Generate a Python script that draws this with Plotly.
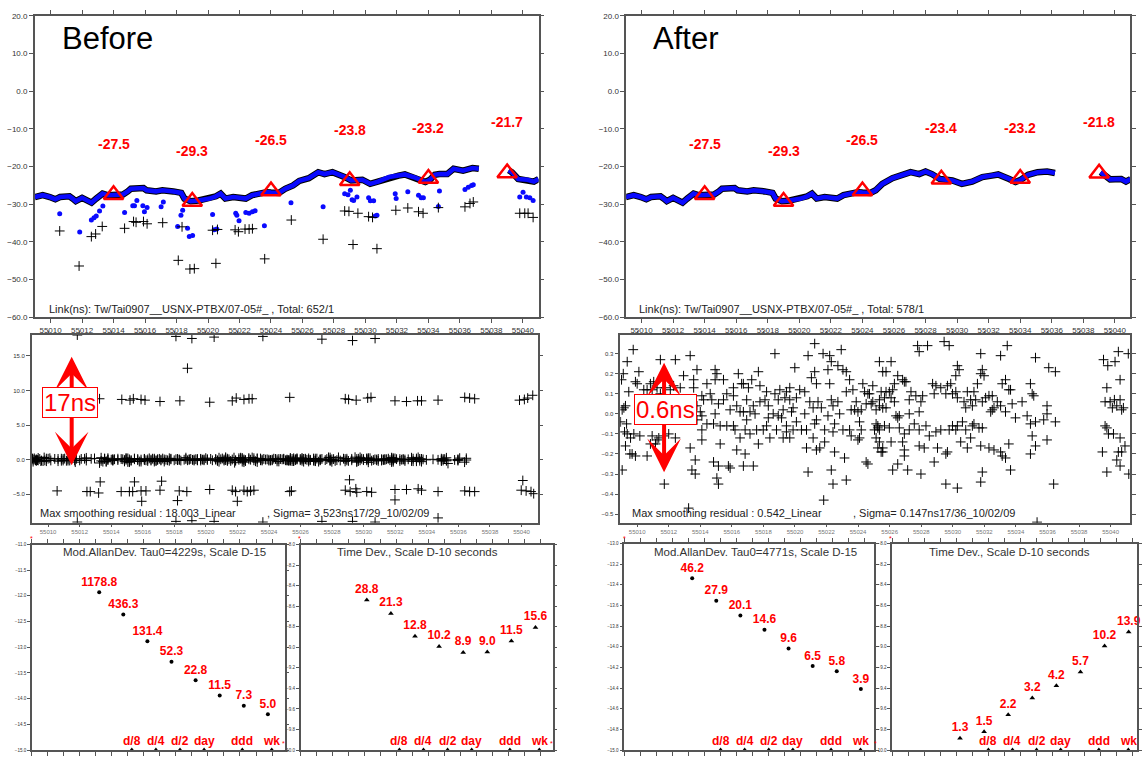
import numpy as np
import plotly.graph_objects as go

W, H = 1142, 758
FONT = "Liberation Sans, Arial, sans-serif"

# ------------------------------------------------------------------ data
TRI_DAYS = [55014, 55019, 55024, 55029, 55034, 55039]
TRI_BEFORE = [-27.5, -29.3, -26.5, -23.8, -23.2, -21.7]
TRI_AFTER = [-27.5, -29.3, -26.5, -23.4, -23.2, -21.8]

CURVE_BEFORE_DAY = [55009.0, 55009.5, 55009.95, 55010.3, 55010.6, 55011.2, 55011.4, 55011.6, 55012.0, 55012.4,
                    55012.6, 55012.9, 55013.3, 55013.6, 55014.0, 55014.6, 55014.9, 55015.1, 55015.9, 55016.1,
                    55016.7, 55017.1, 55017.8, 55018.3, 55018.5, 55018.9, 55019.4, 55020.1, 55020.5, 55020.8,
                    55021.1, 55021.6, 55022.0, 55022.4, 55022.8, 55023.2, 55023.7, 55024.0, 55024.5, 55024.9,
                    55025.4, 55025.8, 55026.4, 55027.0, 55027.4, 55027.9, 55028.3, 55028.7, 55029.1, 55029.8,
                    55030.3, 55030.8, 55031.5, 55032.1, 55032.5, 55033.2, 55033.8, 55034.1, 55034.4, 55034.7,
                    55035.2, 55035.6, 55036.2, 55036.8, 55037.2, None, 55039.1, 55039.3, 55039.7, 55040.3,
                    55040.7, 55041.0]
CURVE_BEFORE_VAL = [-28.1, -27.6, -28.1, -28.7, -28.1, -27.9, -28.5, -29.2, -28.3, -29.0,
                    -29.6, -28.5, -27.2, -27.6, -27.4, -27.4, -26.6, -25.9, -25.7, -26.3,
                    -26.6, -26.3, -26.6, -27.0, -28.5, -29.2, -29.0, -28.5, -27.9, -27.2,
                    -28.5, -28.1, -28.3, -28.5, -27.6, -27.2, -26.8, -26.9, -27.0, -25.9,
                    -25.0, -23.8, -23.1, -21.5, -22.0, -21.5, -22.0, -22.8, -23.7, -23.5,
                    -24.6, -24.0, -22.8, -22.4, -22.1, -23.0, -24.1, -23.5, -22.2, -22.0,
                    -22.0, -20.6, -21.1, -20.4, -20.6, None, -21.0, -21.5, -23.3, -23.5,
                    -24.0, -23.3]

CURVE_AFTER_DAY = [55009.0, 55009.5, 55009.95, 55010.3, 55010.6, 55011.2, 55011.4, 55011.6, 55012.0, 55012.4,
                   55012.6, 55012.9, 55013.3, 55013.6, 55014.0, 55014.6, 55014.9, 55015.1, 55015.9, 55016.1,
                   55016.7, 55017.1, 55017.8, 55018.3, 55018.5, 55018.9, 55019.4, 55020.1, 55020.5, 55020.8,
                   55021.1, 55021.6, 55022.0, 55022.4, 55022.8, 55023.2, 55023.7, 55024.0, 55024.5, 55024.84,
                   55025.26, 55025.9, 55026.5, 55027.05, 55027.6, 55028.0, 55028.4, 55028.9, 55029.7, 55030.3,
                   55030.95, 55031.6, 55032.2, 55032.6, 55033.3, 55033.7, 55034.0, 55034.5, 55035.1, 55035.7,
                   55036.2, None, 55039.1, 55039.7, 55040.4, 55040.7, 55041.0]
CURVE_AFTER_VAL = [-28.1, -27.6, -28.1, -28.7, -28.1, -27.9, -28.5, -29.2, -28.3, -29.0,
                   -29.6, -28.5, -27.2, -27.6, -27.4, -27.4, -26.6, -25.9, -25.7, -26.3,
                   -26.6, -26.3, -26.6, -27.0, -28.5, -29.2, -29.0, -28.5, -27.9, -27.2,
                   -28.5, -28.1, -28.3, -28.5, -27.6, -27.2, -26.8, -26.9, -27.0, -26.3,
                   -24.6, -23.1, -22.4, -21.5, -22.0, -21.3, -22.0, -23.3, -23.7, -24.6,
                   -24.0, -22.8, -22.4, -22.1, -23.3, -24.1, -23.6, -22.2, -21.5, -21.3,
                   -21.7, None, -21.5, -23.4, -23.3, -24.0, -23.3]

BLUE_OUT_BEFORE = [
    (55010.58, -32.5), (55011.85, -37.4), (55012.59, -34.2), (55012.76, -33.6), (55012.90, -33.1),
    (55013.11, -31.8), (55013.32, -30.5), (55014.70, -32.2), (55015.22, -30.4), (55015.33, -30.4),
    (55015.48, -29.0), (55015.86, -30.4), (55015.96, -32.0), (55016.13, -30.9), (55017.02, -30.7),
    (55017.16, -29.4), (55018.07, -35.9), (55018.28, -32.9), (55018.39, -31.6), (55018.70, -36.4),
    (55018.81, -38.6), (55019.02, -38.3), (55020.29, -32.7), (55020.39, -36.8), (55020.56, -36.6),
    (55021.76, -32.4), (55021.83, -32.9), (55021.97, -34.4), (55022.40, -32.2), (55022.61, -32.4),
    (55022.82, -32.0), (55022.99, -31.7), (55023.58, -35.7), (55025.27, -29.6), (55027.31, -30.7),
    (55028.68, -27.2), (55028.89, -27.5), (55029.04, -26.3), (55029.15, -28.8), (55029.25, -29.0),
    (55029.46, -28.1), (55030.20, -28.3), (55030.31, -29.1), (55030.52, -29.1), (55030.62, -33.1),
    (55030.73, -32.9), (55031.89, -27.2), (55031.95, -28.5), (55032.69, -26.7), (55033.37, -27.6),
    (55033.54, -28.3), (55033.68, -28.3), (55034.63, -30.6), (55034.70, -26.5), (55036.32, -26.1),
    (55036.53, -25.5), (55036.74, -25.0), (55036.85, -24.8), (55039.80, -28.1), (55040.01, -26.8),
    (55040.22, -28.1), (55040.44, -28.3), (55040.65, -29.0)]

BLACK_OUT_BEFORE = [
    (55010.58, -37.1), (55011.81, -46.4), (55012.59, -38.6), (55012.86, -37.9), (55013.28, -35.9),
    (55014.70, -36.4), (55015.27, -34.6), (55015.43, -34.8), (55015.90, -34.6), (55016.13, -35.2),
    (55017.12, -34.9), (55018.11, -44.9), (55018.35, -36.0), (55018.85, -47.2), (55019.13, -47.1),
    (55020.29, -36.9), (55020.60, -36.7), (55020.50, -45.7), (55021.72, -36.8), (55021.93, -37.3),
    (55022.35, -36.6), (55022.61, -36.6), (55022.82, -36.5), (55023.60, -44.5), (55025.29, -34.2),
    (55027.31, -39.3), (55028.68, -31.8), (55028.95, -31.9), (55029.52, -32.4), (55030.20, -33.3),
    (55030.45, -33.5), (55029.21, -40.7), (55030.73, -41.8), (55031.93, -31.6), (55032.69, -31.0),
    (55033.37, -32.0), (55033.66, -32.4), (55034.63, -30.9), (55036.32, -30.7), (55036.64, -29.8),
    (55036.85, -29.4), (55039.80, -32.4), (55040.12, -32.4), (55040.33, -32.4), (55040.65, -33.5)]

# smoothing residuals of the cleaned data (ns)
RES_AFTER = [
    (55009.75, 0.32), (55009.37, 0.26), (55009.12, 0.20), (55009.01, 0.17), (55010.11, 0.21), (55009.89, 0.16),
    (55010.00, 0.15), (55009.47, 0.11), (55009.05, 0.02), (55009.16, 0.03), (55009.26, 0.04), (55008.95, -0.04),
    (55009.33, -0.05), (55009.20, -0.09), (55009.58, -0.12), (55009.37, -0.10), (55009.79, -0.10), (55010.17, -0.11),
    (55009.26, -0.16), (55009.54, -0.20), (55009.68, -0.20), (55009.89, -0.21), (55010.63, -0.21), (55009.05, -0.28),
    (55011.47, 0.27), (55012.42, 0.27), (55013.36, 0.29), (55013.79, 0.22), (55013.58, 0.17), (55012.94, 0.19),
    (55012.73, 0.13), (55011.05, 0.16), (55010.84, 0.15), (55011.26, 0.13), (55010.63, 0.12), (55010.42, 0.12),
    (55010.95, 0.12), (55011.47, 0.10), (55011.79, 0.13), (55012.10, 0.12), (55012.31, 0.14), (55011.68, -0.11),
    (55011.37, -0.12), (55011.16, -0.15), (55010.84, -0.15), (55011.26, -0.13), (55010.95, -0.11), (55012.00, -0.10),
    (55012.42, -0.12), (55011.72, -0.35), (55013.58, 0.13), (55014.10, 0.09), (55014.21, 0.07), (55013.79, 0.04),
    (55014.00, 0.01), (55014.10, -0.01), (55013.79, -0.03), (55014.42, -0.05), (55014.10, -0.08), (55014.10, -0.13),
    (55013.36, -0.17), (55013.68, -0.23), (55013.47, -0.28), (55013.68, -0.30), (55013.26, -0.47), (55014.42, 0.15),
    (55014.63, 0.10), (55014.94, 0.22), (55015.05, 0.20), (55014.94, 0.17), (55014.73, 0.07), (55015.15, 0.05),
    (55014.94, 0.00), (55014.84, -0.05), (55015.26, -0.06), (55015.26, -0.15), (55014.84, -0.24), (55015.15, -0.26),
    (55015.05, -0.32), (55015.15, -0.35), (55015.47, 0.17), (55015.47, 0.07), (55015.68, 0.10), (55015.89, 0.02),
    (55015.68, -0.06), (55016.10, 0.09), (55016.10, 0.13), (55015.78, -0.26), (55015.89, -0.27), (55016.41, 0.20),
    (55016.62, 0.15), (55016.73, 0.15), (55016.31, 0.04), (55016.52, 0.01), (55016.73, 0.01), (55016.10, -0.06),
    (55016.20, -0.08), (55016.52, -0.12), (55016.84, -0.08), (55016.31, -0.18), (55016.84, -0.20), (55016.73, -0.26),
    (55017.36, -0.26), (55017.26, 0.17), (55017.05, 0.13), (55017.68, 0.21), (55016.94, 0.07), (55017.36, 0.04),
    (55017.78, 0.06), (55017.15, 0.01), (55017.47, 0.00), (55016.94, -0.03), (55017.57, -0.08), (55017.15, -0.10),
    (55017.68, -0.15), (55017.78, 0.14), (55018.20, 0.11), (55018.10, 0.07), (55018.31, 0.04), (55018.62, 0.00),
    (55018.31, -0.02), (55018.20, -0.06), (55017.99, -0.08), (55018.41, -0.12), (55018.73, 0.30), (55018.73, 0.10),
    (55019.04, 0.12), (55018.94, 0.07), (55018.94, -0.01), (55018.83, -0.08), (55019.46, 0.11), (55019.36, 0.08),
    (55019.25, 0.02), (55019.15, -0.02), (55019.46, -0.06), (55019.46, -0.09), (55019.25, -0.12), (55019.99, 0.23),
    (55019.67, 0.13), (55019.67, 0.07), (55019.88, 0.03), (55019.78, 0.01), (55020.09, 0.08), (55020.30, 0.12),
    (55020.09, -0.04), (55019.88, -0.08), (55019.67, -0.12), (55020.41, -0.08), (55020.62, 0.11), (55020.62, 0.00),
    (55020.73, -0.08), (55020.83, 0.29), (55020.94, 0.06), (55020.73, -0.17), (55020.83, -0.29), (55021.25, 0.35),
    (55021.25, 0.21), (55021.04, 0.18), (55021.36, 0.15), (55021.15, 0.03), (55021.46, 0.06), (55021.36, -0.03),
    (55021.25, -0.05), (55021.15, -0.12), (55021.36, -0.18), (55021.57, -0.17), (55021.78, 0.30), (55021.67, 0.03),
    (55021.88, -0.08), (55021.88, -0.14), (55021.82, -0.43), (55022.20, 0.29), (55022.30, 0.26), (55022.09, 0.22),
    (55022.20, 0.15), (55022.30, 0.07), (55022.41, 0.04), (55022.09, -0.01), (55022.51, -0.05), (55022.41, -0.09),
    (55022.51, -0.19), (55022.30, -0.28), (55022.41, -0.35), (55022.93, 0.32), (55022.72, 0.24), (55023.04, 0.22),
    (55023.25, 0.21), (55023.46, 0.17), (55023.25, 0.11), (55022.72, 0.06), (55022.83, 0.00), (55023.04, -0.08),
    (55023.14, -0.22), (55023.56, 0.02), (55023.46, -0.08), (55023.56, -0.11), (55023.25, -0.33), (55023.67, 0.12),
    (55023.88, 0.06), (55023.78, 0.02), (55023.99, 0.01), (55024.09, -0.04), (55024.20, -0.08), (55024.09, -0.12),
    (55023.99, -0.13), (55024.20, 0.02), (55024.30, 0.15), (55024.62, 0.10), (55024.51, 0.05), (55024.41, 0.11),
    (55024.62, -0.25), (55024.93, 0.14), (55024.93, 0.06), (55025.14, -0.05), (55025.25, -0.07), (55025.35, 0.26),
    (55025.56, 0.21), (55025.46, 0.11), (55025.25, -0.17), (55025.56, -0.19), (55025.35, 0.07), (55025.35, 0.04),
    (55025.35, -0.08), (55025.14, -0.12),
    (55024.72, 0.10), (55024.83, 0.05), (55025.14, 0.02), (55025.77, 0.11), (55025.98, 0.11), (55025.67, 0.08),
    (55025.56, 0.03), (55025.77, 0.03), (55026.09, 0.08), (55026.30, 0.06), (55026.19, 0.12), (55026.09, 0.26),
    (55025.77, 0.21), (55026.51, 0.19), (55026.82, 0.17), (55026.93, 0.16), (55027.03, 0.16), (55026.30, 0.15),
    (55025.04, -0.08), (55025.25, -0.06), (55025.67, -0.06), (55025.98, -0.07), (55026.40, -0.01), (55026.61, -0.01),
    (55026.51, -0.02), (55027.24, 0.00), (55027.87, 0.01), (55027.98, 0.06), (55027.35, 0.11), (55027.66, 0.09),
    (55027.24, 0.07), (55028.09, 0.09), (55028.72, 0.15), (55028.93, 0.14), (55028.82, 0.10), (55029.24, 0.13),
    (55029.66, 0.14), (55029.87, 0.15), (55029.56, 0.10), (55029.98, 0.10), (55030.19, 0.11), (55030.29, 0.24),
    (55030.40, 0.22), (55030.19, 0.19), (55030.29, 0.08), (55030.71, 0.06), (55030.82, 0.03), (55031.24, 0.04),
    (55031.13, 0.07), (55031.34, 0.11), (55031.56, 0.15), (55031.77, 0.20), (55031.98, 0.19), (55031.87, 0.22),
    (55031.77, 0.30), (55030.92, 0.11), (55031.45, 0.07), (55031.87, 0.06), (55032.08, 0.08), (55032.29, 0.09),
    (55032.50, 0.09), (55032.82, 0.06), (55032.50, 0.02), (55032.40, 0.01), (55032.61, 0.03), (55033.13, 0.15),
    (55033.55, 0.12), (55033.34, 0.17), (55033.66, 0.12), (55033.03, 0.04), (55033.34, 0.01), (55033.76, 0.05),
    (55033.97, -0.02), (55033.45, 0.34), (55033.03, 0.29), (55034.39, 0.06), (55034.92, 0.15), (55035.13, 0.09),
    (55035.03, 0.10), (55034.71, -0.01), (55034.92, -0.05), (55035.24, -0.04), (55035.76, -0.03), (55035.97, 0.04),
    (55035.97, 0.00), (55036.50, -0.04), (55035.24, 0.28), (55036.08, 0.23), (55036.50, 0.21), (55027.77, 0.34),
    (55027.87, 0.31), (55028.40, 0.34), (55029.45, 0.36), (55029.77, 0.34), (55030.19, -0.08), (55028.93, -0.09),
    (55028.30, -0.06), (55027.56, -0.05), (55027.24, -0.08), (55027.87, -0.08), (55026.61, -0.07), (55026.93, -0.10),
    (55025.35, -0.14), (55026.09, -0.14), (55026.82, -0.14), (55025.56, -0.17), (55025.46, -0.19), (55026.93, -0.18),
    (55026.93, -0.21), (55027.87, -0.16), (55028.19, -0.17), (55029.03, -0.17), (55029.66, -0.19), (55029.56, -0.20),
    (55028.51, -0.11), (55029.24, -0.08), (55029.77, -0.08), (55029.98, -0.06), (55030.29, -0.06), (55030.61, -0.04),
    (55030.82, -0.08), (55031.24, -0.06), (55031.34, -0.05), (55031.66, -0.07), (55031.87, -0.07), (55031.13, -0.12),
    (55030.50, -0.14), (55030.92, -0.17), (55031.77, -0.16), (55032.29, -0.17), (55032.61, -0.18), (55033.03, -0.19),
    (55033.13, -0.21), (55033.34, -0.22), (55033.55, -0.15), (55035.03, -0.11), (55035.24, -0.16), (55034.92, -0.20),
    (55035.97, -0.13), (55024.51, -0.24), (55026.51, -0.25), (55026.19, -0.28), (55027.14, -0.28), (55027.98, -0.30),
    (55028.82, -0.24), (55029.56, -0.35), (55030.29, -0.37), (55031.77, -0.34), (55031.87, -0.29), (55033.66, -0.28),
    (55036.39, -0.35), (55035.34, -0.54),
    (55039.55, 0.27), (55040.28, 0.26), (55039.82, 0.24), (55040.49, 0.31), (55040.60, 0.17), (55041.12, 0.30),
    (55039.76, 0.13), (55039.65, 0.06), (55039.97, 0.06), (55040.24, 0.07), (55040.60, 0.07), (55040.81, 0.03),
    (55040.70, 0.02), (55040.11, 0.03), (55040.39, 0.04), (55039.65, -0.06), (55039.76, -0.07), (55039.86, -0.10),
    (55040.18, -0.10), (55040.60, -0.12), (55040.91, -0.16), (55039.48, -0.19), (55040.49, -0.19), (55040.70, -0.19),
    (55040.39, -0.23), (55040.60, -0.26), (55039.76, -0.29), (55041.15, -0.30)]

# outlier residuals before cleaning (ns)
RES_BEFORE_OUT = [
    (55011.85, 18.0), (55018.10, 17.8), (55019.11, 17.5), (55020.52, 17.7), (55023.61, 17.8), (55027.35, 17.4),
    (55029.29, 17.2), (55030.72, 17.5), (55018.83, 13.2),
    (55013.26, 8.8), (55014.67, 8.7), (55015.19, 8.6), (55015.40, 8.8), (55015.89, 8.7), (55016.14, 8.6),
    (55017.09, 8.4), (55018.35, 8.5), (55020.24, 8.3), (55021.67, 8.5), (55021.92, 8.9), (55022.41, 8.7),
    (55022.73, 8.8), (55022.93, 8.8), (55025.31, 9.0), (55028.83, 8.8), (55029.04, 8.7), (55029.52, 8.6),
    (55030.25, 8.9), (55030.46, 9.0), (55031.98, 8.5), (55032.71, 8.4), (55033.41, 8.5), (55033.66, 8.5),
    (55034.71, 8.6), (55036.40, 9.0), (55036.71, 8.9), (55037.03, 8.8), (55039.87, 8.6), (55040.18, 8.7),
    (55040.39, 8.9), (55040.71, 9.3),
    (55010.57, -4.5), (55012.46, -4.6), (55012.67, -4.6), (55013.20, -4.8), (55013.30, -3.2), (55014.63, -4.6),
    (55015.15, -4.6), (55015.36, -4.6), (55015.47, -3.2), (55015.89, -4.5), (55016.20, -4.5), (55017.09, -4.4),
    (55017.19, -3.1), (55018.31, -4.5), (55018.79, -4.6), (55015.93, -6.0), (55018.20, -5.9), (55020.24, -4.3),
    (55021.67, -4.4), (55021.88, -4.6), (55021.99, -6.0), (55022.41, -4.4), (55022.62, -4.6), (55022.83, -4.5),
    (55023.04, -4.4), (55025.31, -4.6), (55025.42, -4.5), (55028.83, -4.4), (55029.14, -4.6), (55029.50, -4.2),
    (55029.10, -2.9), (55029.56, -4.7), (55030.19, -4.6), (55030.50, -4.7), (55031.98, -4.3), (55031.98, -5.8),
    (55032.71, -4.3), (55033.45, -4.2), (55033.66, -4.4), (55034.71, -4.6), (55036.40, -4.5), (55036.71, -4.6),
    (55037.03, -4.6), (55039.98, -4.4), (55040.08, -3.0), (55040.29, -4.5), (55040.60, -4.6), (55040.77, -4.9),
    (55011.85, -9.0), (55018.10, -8.9), (55019.11, -8.8), (55020.52, -8.9), (55023.61, -9.0), (55027.35, -8.9),
    (55029.29, -8.9), (55030.72, -9.0), (55034.71, -8.4)]

TAU_MULT = [1, 2, 4, 8, 16, 32, 64, 128]
TAU0_BEFORE, TAU0_AFTER = 4229, 4771
ADEV_BEFORE = [1178.8, 436.3, 131.4, 52.3, 22.8, 11.5, 7.3, 5.0]      # x 1e-15
TDEV_BEFORE = [28.8, 21.3, 12.8, 10.2, 8.9, 9.0, 11.5, 15.6]          # x 1e-10 s
ADEV_AFTER = [46.2, 27.9, 20.1, 14.6, 9.6, 6.5, 5.8, 3.9]
TDEV_AFTER = [1.3, 1.5, 2.2, 3.2, 4.2, 5.7, 10.2, 13.9]
INTERVAL_NAMES = ["d/8", "d/4", "d/2", "day", "ddd", "wk"]
INTERVAL_SEC = [10800, 21600, 43200, 86400, 259200, 604800]
MJD_TICKS = list(range(55010, 55041, 2))

# ------------------------------------------------------------------ helpers
def xd(a, b):
    return [a / W, b / W]


def yd(top, bot):
    return [1 - bot / H, 1 - top / H]


def axis(**kw):
    base = dict(showline=True, linecolor="#555", linewidth=1.5, mirror="ticks", ticks="outside",
                ticklen=4, tickcolor="#555", tickwidth=1, showgrid=False, zeroline=False,
                fixedrange=True, tickfont=dict(family=FONT, size=8, color="#333"))
    base.update(kw)
    return base


fig = go.Figure()
annots = []


def txt(xp, yp, text, size, color="#222", xanchor="left", yanchor="middle", **kw):
    annots.append(dict(x=xp / W, y=1 - yp / H, xref="paper", yref="paper", text=text, showarrow=False,
                       xanchor=xanchor, yanchor=yanchor, font=dict(family=FONT, size=size, color=color), **kw))


# ------------------------------------------------------------------ top panels
def top_panel(xa, ya, cday, cval, tris, blue=None, black=None):
    fig.add_trace(go.Scatter(x=cday, y=cval, mode="lines", line=dict(color="black", width=6.5),
                             xaxis=xa, yaxis=ya, connectgaps=False, hoverinfo="skip"))
    fig.add_trace(go.Scatter(x=cday, y=cval, mode="lines", line=dict(color="#0a0aff", width=4.6),
                             xaxis=xa, yaxis=ya, connectgaps=False))
    if blue:
        fig.add_trace(go.Scatter(x=[p[0] for p in blue], y=[p[1] for p in blue], mode="markers",
                                 marker=dict(color="#0a0aff", size=5), xaxis=xa, yaxis=ya))
    if black:
        fig.add_trace(go.Scatter(x=[p[0] for p in black], y=[p[1] for p in black], mode="markers",
                                 marker=dict(symbol="cross-thin", size=7, line=dict(width=1, color="black")),
                                 xaxis=xa, yaxis=ya))
    fig.add_trace(go.Scatter(x=TRI_DAYS, y=tris, mode="markers",
                             marker=dict(symbol="triangle-up-open", size=17, color="red",
                                         line=dict(width=2.5, color="red")), xaxis=xa, yaxis=ya))
    for d, v in zip(TRI_DAYS, tris):
        annots.append(dict(x=d, y=v, xref=xa, yref=ya, text=f"<b>{v:.1f}</b>", showarrow=False, yshift=51,
                           font=dict(family=FONT, size=14, color="red")))


top_panel("x", "y", CURVE_BEFORE_DAY, CURVE_BEFORE_VAL, TRI_BEFORE, BLUE_OUT_BEFORE, BLACK_OUT_BEFORE)
top_panel("x5", "y5", CURVE_AFTER_DAY, CURVE_AFTER_VAL, TRI_AFTER)

# ------------------------------------------------------------------ residual panels
cross = dict(symbol="cross-thin", size=7, line=dict(width=1, color="black"))
fig.add_trace(go.Scatter(x=[p[0] for p in RES_AFTER if p[0] < 55037.3], y=[p[1] for p in RES_AFTER if p[0] < 55037.3],
                         mode="markers", marker=cross, xaxis="x2", yaxis="y2"))
fig.add_trace(go.Scatter(x=[p[0] for p in RES_BEFORE_OUT], y=[p[1] for p in RES_BEFORE_OUT],
                         mode="markers", marker=cross, xaxis="x2", yaxis="y2"))
fig.add_trace(go.Scatter(x=[p[0] for p in RES_AFTER], y=[p[1] for p in RES_AFTER],
                         mode="markers", marker=cross, xaxis="x6", yaxis="y6"))


# ------------------------------------------------------------------ stability panels
def stab_panel(xa, ya, tau0, vals, scale, symbol, msize, ybottom):
    taus = np.array([tau0 * m for m in TAU_MULT], dtype=float)
    fig.add_trace(go.Scatter(x=np.log10(taus), y=np.log10(np.array(vals) * scale), mode="markers+text",
                             marker=dict(symbol=symbol, size=msize, color="black"),
                             text=[f"<b>{v:.1f}</b>" for v in vals], textposition="top center",
                             textfont=dict(family=FONT, size=12, color="red"),
                             xaxis=xa, yaxis=ya, cliponaxis=False))
    lx = np.log10(np.array(INTERVAL_SEC, dtype=float))
    fig.add_trace(go.Scatter(x=lx, y=[ybottom] * len(lx), mode="markers",
                             marker=dict(symbol="triangle-up", size=5, color="black"),
                             xaxis=xa, yaxis=ya, cliponaxis=False))
    for x, name in zip(lx, INTERVAL_NAMES):
        annots.append(dict(x=x, y=ybottom, xref=xa, yref=ya, text=f"<b>{name}</b>", showarrow=False,
                           yanchor="bottom", yshift=0, font=dict(family=FONT, size=12, color="red")))


stab_panel("x3", "y3", TAU0_BEFORE, ADEV_BEFORE, 1e-15, "circle", 4, -15)
stab_panel("x4", "y4", TAU0_BEFORE, TDEV_BEFORE, 1e-10, "triangle-up", 5, -10)
stab_panel("x7", "y7", TAU0_AFTER, ADEV_AFTER, 1e-15, "circle", 4, -15)
stab_panel("x8", "y8", TAU0_AFTER, TDEV_AFTER, 1e-10, "triangle-up", 5, -10)

# ------------------------------------------------------------------ axes
mjd_text = [str(t) for t in MJD_TICKS]
lay = dict(
    xaxis=axis(domain=xd(35, 541), range=[55009.0, 55041.0], anchor="y", tickvals=MJD_TICKS, ticktext=mjd_text),
    yaxis=axis(domain=yd(12, 317), range=[-60, 20], anchor="x", dtick=10, tick0=0, tickformat=".1f"),
    xaxis2=axis(domain=xd(32, 540), range=[55008.97, 55041.02], anchor="y2", tickvals=MJD_TICKS, ticktext=mjd_text,
                tickfont=dict(family=FONT, size=6, color="#777"), ticklen=2),
    yaxis2=axis(domain=yd(335, 525), range=[-9.1, 18.0], anchor="x2", tickvals=[-5, 0, 5, 10, 15],
                tickformat=".1f", tickfont=dict(family=FONT, size=6, color="#333")),
    xaxis3=axis(domain=xd(32, 286), range=[2.785, 5.944], anchor="y3", dtick=0.2, tick0=2.785, showticklabels=False),
    yaxis3=axis(domain=yd(547, 755), range=[-15, -11], anchor="x3", dtick=0.5, tick0=-11, tickformat=".1f",
                tickfont=dict(family=FONT, size=4.5, color="#333"), ticklen=3),
    xaxis4=axis(domain=xd(302, 555), range=[2.80, 5.947], anchor="y4", dtick=0.2, tick0=2.80, showticklabels=False),
    yaxis4=axis(domain=yd(547, 755), range=[-10, -8], anchor="x4", dtick=0.2, tick0=-8, tickformat=".1f",
                tickfont=dict(family=FONT, size=4.5, color="#333"), ticklen=3),
    xaxis5=axis(domain=xd(629, 1135), range=[55009.03, 55040.96], anchor="y5", tickvals=MJD_TICKS, ticktext=mjd_text),
    yaxis5=axis(domain=yd(12, 317), range=[-60, 20], anchor="x5", dtick=10, tick0=0, tickformat=".1f"),
    xaxis6=axis(domain=xd(623, 1135), range=[55008.93, 55041.23], anchor="y6", tickvals=MJD_TICKS, ticktext=mjd_text,
                tickfont=dict(family=FONT, size=6, color="#777"), ticklen=2),
    yaxis6=axis(domain=yd(335, 525), range=[-0.543, 0.393], anchor="x6",
                tickvals=[-0.5, -0.4, -0.3, -0.2, -0.1, 0.0, 0.1, 0.2, 0.3], tickformat=".1f",
                tickfont=dict(family=FONT, size=6, color="#333")),
    xaxis7=axis(domain=xd(627, 878), range=[2.83, 5.952], anchor="y7", dtick=0.2, tick0=2.83, showticklabels=False),
    yaxis7=axis(domain=yd(546, 755), range=[-15, -13], anchor="x7", dtick=0.2, tick0=-13, tickformat=".1f",
                tickfont=dict(family=FONT, size=4.5, color="#333"), ticklen=3),
    xaxis8=axis(domain=xd(896, 1142), range=[2.83, 5.89], anchor="y8", dtick=0.2, tick0=2.83, showticklabels=False),
    yaxis8=axis(domain=yd(546, 755), range=[-10, -8], anchor="x8", dtick=0.2, tick0=-8, tickformat=".1f",
                tickfont=dict(family=FONT, size=4.5, color="#333"), ticklen=3),
)

# ------------------------------------------------------------------ texts
txt(60, 35, "Before", 31, "black")
txt(654, 35, "After", 31, "black")
txt(47, 309, "Link(ns): Tw/Tai0907__USNX-PTBX/07-05#_ , Total: 652/1", 11)
txt(640, 309, "Link(ns): Tw/Tai0907__USNX-PTBX/07-05#_ , Total: 578/1", 11)
txt(38, 515, "Max smoothing residual : 18.003_Linear", 11)
txt(266, 515, ", Sigma= 3.523ns17/29_10/02/09", 11)
txt(633, 515, "Max smoothing residual : 0.542_Linear", 11)
txt(855, 515, ", Sigma= 0.147ns17/36_10/02/09", 11)
txt(165, 555, "Mod.AllanDev. Tau0=4229s, Scale D-15", 11.5, "#333", xanchor="center")
txt(419, 555, "Time Dev., Scale D-10 seconds", 11.5, "#333", xanchor="center")
txt(759, 555, "Mod.AllanDev. Tau0=4771s, Scale D-15", 11.5, "#333", xanchor="center")
txt(1014, 555, "Time Dev., Scale D-10 seconds", 11.5, "#333", xanchor="center")
for sx, sy in [(32, 541), (285, 748), (301, 541), (554, 748), (627, 541), (879, 748), (894, 541)]:
    txt(sx, sy, "*", 7, "red", xanchor="center")

# red double arrows + boxes
for ax_x, top_y, length in [(72, 357, 110), (667, 363, 111)]:
    annots.append(dict(x=ax_x / W, y=1 - top_y / H, xref="paper", yref="paper", text="", showarrow=True,
                       ax=0, ay=length, axref="pixel", ayref="pixel", arrowside="end+start",
                       arrowhead=3, startarrowhead=3, arrowsize=1.4, startarrowsize=1.4,
                       arrowwidth=4, arrowcolor="red"))
txt(70.5, 403.5, "17ns", 24, "red", xanchor="center", bordercolor="red", borderwidth=1, bgcolor="white", borderpad=1)
txt(668, 410.5, "0.6ns", 24, "red", xanchor="center", bordercolor="red", borderwidth=1, bgcolor="white", borderpad=1)

fig.update_layout(width=W, height=H, margin=dict(l=0, r=0, t=0, b=0), paper_bgcolor="white",
                  plot_bgcolor="white", showlegend=False, annotations=annots, font=dict(family=FONT), **lay)
fig.write_html("out.html")
